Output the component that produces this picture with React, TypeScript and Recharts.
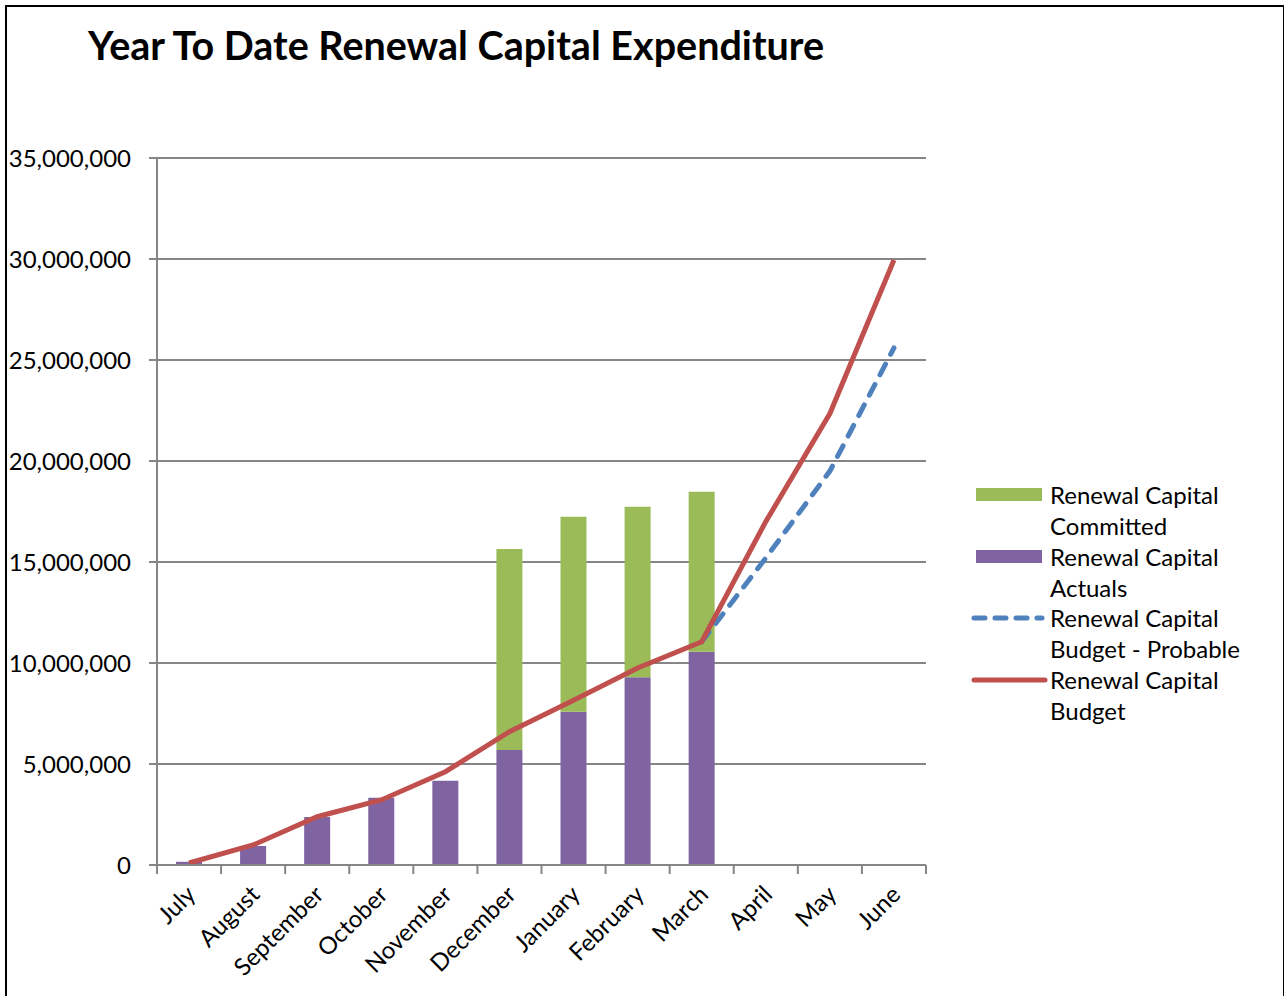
import React from "react";
import {
  ComposedChart,
  Bar,
  Line,
  XAxis,
  YAxis,
  CartesianGrid,
} from "recharts";

const months = [
  "July", "August", "September", "October", "November", "December",
  "January", "February", "March", "April", "May", "June",
];
const actuals = [0.16, 0.94, 2.38, 3.33, 4.17, 5.69, 7.59, 9.29, 10.56, null, null, null];
const committed = [null, null, null, null, null, 9.95, 9.65, 8.45, 7.92, null, null, null];
const budget = [0.1, 0.99, 2.39, 3.22, 4.62, 6.6, 8.15, 9.75, 11.05, 17.0, 22.35, 29.95];
const probable = [null, null, null, null, null, null, null, null, 11.05, 15.2, 19.5, 25.6];
const yTicks = [0, 5, 10, 15, 20, 25, 30, 35];

const M = 1000000;
const data = months.map((m, i) => ({
  month: m,
  actuals: actuals[i] == null ? null : actuals[i]! * M,
  committed: committed[i] == null ? null : committed[i]! * M,
  budget: budget[i] * M,
  probable: probable[i] == null ? null : probable[i]! * M,
}));

const FONT = "Lato, 'Open Sans', sans-serif";
const GRID = "#868686";
const BAND = 769 / 12;

function MonthTick(props: any) {
  const { x, y, payload, index } = props;
  return (
    <g>
      <line x1={x + BAND / 2} y1={y - 8} x2={x + BAND / 2} y2={y + 1} stroke={GRID} strokeWidth={2} />
      {index === 0 && (
        <line x1={x - BAND / 2} y1={y - 8} x2={x - BAND / 2} y2={y + 1} stroke={GRID} strokeWidth={2} />
      )}
      <text
        x={x + 8}
        y={y + 23}
        textAnchor="end"
        transform={`rotate(-45, ${x + 8}, ${y + 23})`}
        fontSize={24}
        fontFamily={FONT}
        fill="#000"
      >
        {payload.value}
      </text>
    </g>
  );
}

const legendItems = [
  { kind: "bar", color: "#9BBB59", lines: ["Renewal Capital", "Committed"] },
  { kind: "bar", color: "#8064A2", lines: ["Renewal Capital", "Actuals"] },
  { kind: "dash", color: "#4F81BD", lines: ["Renewal Capital", "Budget - Probable"] },
  { kind: "line", color: "#C0504D", lines: ["Renewal Capital", "Budget"] },
];

function ChartLegend() {
  return (
    <div style={{ position: "absolute", left: 970, top: 479, fontFamily: FONT, fontSize: 24, color: "#000" }}>
      {legendItems.map((it) => (
        <div key={it.lines[1]} style={{ display: "flex", alignItems: "flex-start", height: 61.5 }}>
          <svg width={80} height={31} style={{ flexShrink: 0 }}>
            {it.kind === "bar" && <rect x={6} y={9} width={66} height={13} fill={it.color} />}
            {it.kind === "dash" && (
              <line x1={4} y1={16} x2={72} y2={16} stroke={it.color} strokeWidth={5}
                strokeDasharray="11 10" strokeLinecap="round" />
            )}
            {it.kind === "line" && (
              <line x1={4} y1={16} x2={75} y2={16} stroke={it.color} strokeWidth={5} strokeLinecap="round" />
            )}
          </svg>
          <div style={{ lineHeight: "31px" }}>
            {it.lines[0]}
            <br />
            {it.lines[1]}
          </div>
        </div>
      ))}
    </div>
  );
}

export default function App() {
  return (
    <div style={{ position: "absolute", left: 0, top: 0, width: 1284, height: 996, background: "#fff", overflow: "hidden" }}>
      <div style={{ position: "absolute", left: 5, top: 5, width: 1276, height: 1000, border: "2px solid #000" }} />
      <div
        style={{
          position: "absolute", left: 88, top: 21, fontFamily: FONT, fontWeight: 700,
          fontSize: 39.5, color: "#000", whiteSpace: "nowrap",
        }}
      >
        Year To Date Renewal Capital Expenditure
      </div>
      <div style={{ position: "absolute", left: 0, top: 0 }}>
        <ComposedChart
          width={1284}
          height={996}
          data={data}
          margin={{ top: 158, right: 358, bottom: 0, left: 0 }}
          barGap={0}
        >
          <CartesianGrid vertical={false} stroke={GRID} strokeWidth={2} />
          <XAxis
            dataKey="month"
            height={131}
            axisLine={{ stroke: GRID, strokeWidth: 2 }}
            tickLine={false}
            tick={<MonthTick />}
            interval={0}
          />
          <YAxis
            width={157}
            domain={[0, 35 * M]}
            ticks={yTicks.map((t) => t * M)}
            tickFormatter={(v: number) => v.toLocaleString("en-US")}
            axisLine={{ stroke: GRID, strokeWidth: 2 }}
            tickLine={{ stroke: GRID, strokeWidth: 2 }}
            tickSize={8}
            tickMargin={18}
            tick={{ fontSize: 24, fontFamily: FONT, fill: "#000" }}
          />
          <Bar dataKey="actuals" stackId="a" fill="#8064A2" barSize={26} isAnimationActive={false} />
          <Bar dataKey="committed" stackId="a" fill="#9BBB59" barSize={26} isAnimationActive={false} />
          <Line
            dataKey="probable"
            stroke="#4F81BD"
            strokeWidth={5}
            strokeDasharray="12 11"
            strokeLinecap="round"
            dot={false}
            connectNulls={false}
            isAnimationActive={false}
          />
          <Line
            dataKey="budget"
            stroke="#C0504D"
            strokeWidth={5}
            dot={false}
            isAnimationActive={false}
          />
        </ComposedChart>
      </div>
      <ChartLegend />
    </div>
  );
}
